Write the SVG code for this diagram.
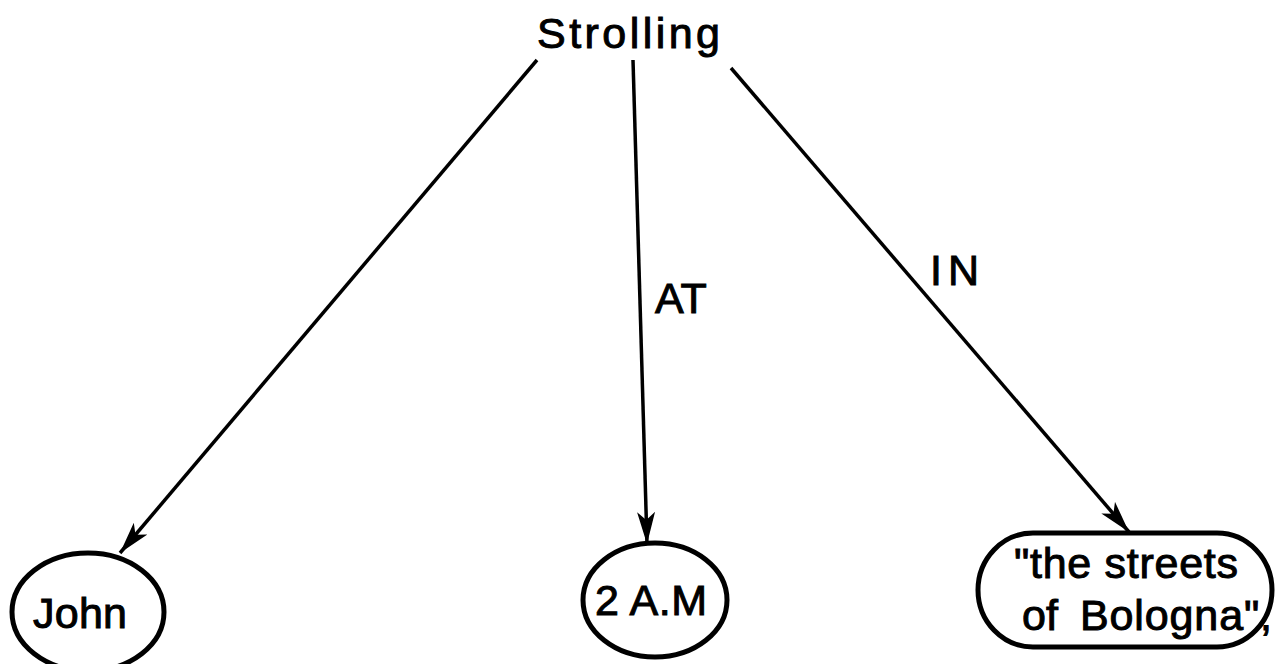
<svg xmlns="http://www.w3.org/2000/svg" width="1275" height="664" viewBox="0 0 1275 664">
<style>
  .t { font-family: "Liberation Sans", Arial, sans-serif; font-size: 43px; fill: #000; stroke: #000; stroke-width: 1; }
  .shape { fill: none; stroke: #000; stroke-width: 5; }
  .edge { fill: none; stroke: #000; stroke-width: 3.5; }
</style>
<defs>
  <marker id="arrL" viewBox="0 0 32 18" refX="32" refY="9" markerWidth="32" markerHeight="18" markerUnits="userSpaceOnUse" orient="auto">
    <path d="M0,0 L32,9 L0,18 L8,9 Z" fill="#000"/>
  </marker>
</defs>
<rect width="1275" height="664" fill="#fff"/>
<g id="connectors">
  <line class="edge" x1="537" y1="60" x2="120" y2="553" marker-end="url(#arrL)"/>
  <line class="edge" x1="633" y1="60" x2="647" y2="544" marker-end="url(#arrL)"/>
  <line class="edge" x1="731" y1="68" x2="1129" y2="532" marker-end="url(#arrL)"/>
  <text class="t" x="655" y="313">AT</text>
  <text class="t" x="930" y="285" letter-spacing="6">IN</text>
</g>
<g id="strolling">
  <text class="t" x="537" y="48" textLength="183" lengthAdjust="spacing">Strolling</text>
</g>
<g id="john">
  <ellipse class="shape" cx="88" cy="612" rx="76" ry="59"/>
  <text class="t" x="33" y="628" textLength="94" lengthAdjust="spacing">John</text>
</g>
<g id="twoam">
  <ellipse class="shape" cx="655" cy="600" rx="72" ry="57"/>
  <text class="t" x="595" y="615" textLength="112" lengthAdjust="spacing">2 A.M</text>
</g>
<g id="streets">
  <rect class="shape" x="978" y="533" width="294" height="114" rx="55" ry="57"/>
  <text class="t" x="1014" y="578" textLength="224" lengthAdjust="spacing">"the streets</text>
  <text class="t" y="630"><tspan x="1022">of</tspan><tspan x="1080" textLength="192" lengthAdjust="spacing">Bologna",</tspan></text>
</g>
</svg>
